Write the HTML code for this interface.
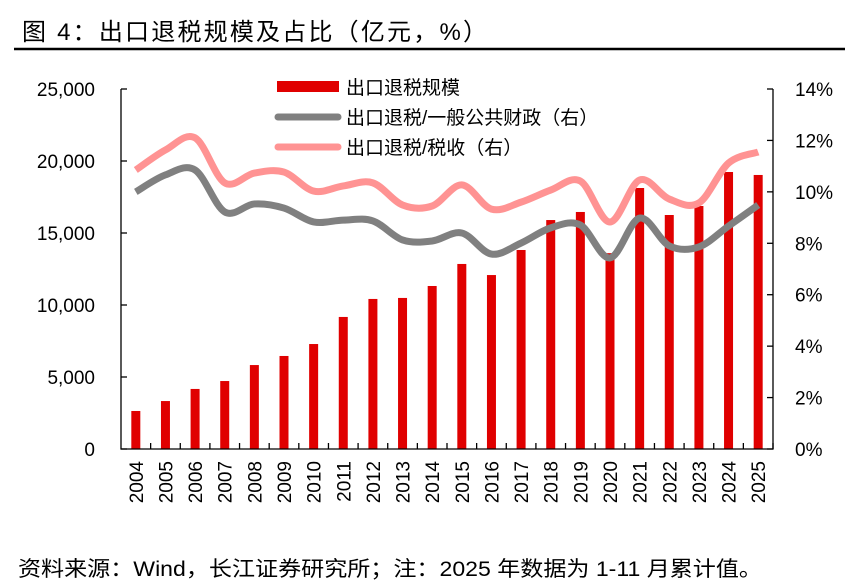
<!DOCTYPE html>
<html><head><meta charset="utf-8">
<style>
body{margin:0;background:#fff;}
svg{display:block;font-family:"Liberation Sans","Noto Sans CJK SC",sans-serif;}
</style></head>
<body>
<svg id="chart" width="856" height="584" viewBox="0 0 856 584">
<text x="22" y="40" font-size="24" fill="#000" textLength="465" lengthAdjust="spacing">图 4：出口退税规模及占比（亿元，%）</text>
<line x1="14" y1="49" x2="845" y2="49" stroke="#000" stroke-width="2.5"/>
<g id="plot"></g>
<text x="18" y="576" font-size="21" fill="#000" textLength="744" lengthAdjust="spacingAndGlyphs">资料来源：Wind，长江证券研究所；注：2025 年数据为 1-11 月累计值。</text>
</svg>
<script>
const years=["2004","2005","2006","2007","2008","2009","2010","2011","2012","2013","2014","2015","2016","2017","2018","2019","2020","2021","2022","2023","2024","2025"];
const rebate=[2640,3330,4170,4720,5830,6460,7290,9170,10420,10490,11320,12850,12080,13820,15900,16460,13600,18125,16250,16875,19236,19030];
const shareFiscal=[10.0,10.66,10.85,9.22,9.53,9.37,8.83,8.9,8.87,8.13,8.09,8.4,7.58,8.01,8.6,8.71,7.43,8.98,7.9,7.86,8.67,9.49];
const shareTax=[10.85,11.63,12.1,10.35,10.73,10.77,10.03,10.23,10.35,9.49,9.45,10.27,9.33,9.6,10.07,10.42,8.83,10.46,9.72,9.57,11.12,11.55];
const leftTicks=[0,5000,10000,15000,20000,25000];
const rightTicks=[0,2,4,6,8,10,12,14];

const NS="http://www.w3.org/2000/svg";
const g=document.getElementById('plot');
const X0=121,X1=773,Y0=449,Y1=89;
const step=(X1-X0)/years.length;
const xc=i=>X0+step*(i+0.5);
const yl=v=>Y0-(v/25000)*(Y0-Y1);
const yr=v=>Y0-(v/14)*(Y0-Y1);
function mk(tag,attrs){const e=document.createElementNS(NS,tag);for(const k in attrs)e.setAttribute(k,attrs[k]);g.appendChild(e);return e;}
function fmt(v){return v.toLocaleString('en-US');}

rebate.forEach((v,i)=>{
 const r=mk('rect',{x:xc(i)-4.5,y:yl(v),width:9,height:Y0-yl(v),fill:'#e00000'});
 
 
});
function smooth(vals){
 const p=vals.map((v,i)=>[xc(i),yr(v)]);
 let d='M'+p[0][0]+','+p[0][1];
 for(let i=0;i<p.length-1;i++){
  const p0=p[i-1]||p[i],p1=p[i],p2=p[i+1],p3=p[i+2]||p2;
  const t=1/6;
  d+=' C'+(p1[0]+(p2[0]-p0[0])*t)+','+(p1[1]+(p2[1]-p0[1])*t)+' '+(p2[0]-(p3[0]-p1[0])*t)+','+(p2[1]-(p3[1]-p1[1])*t)+' '+p2[0]+','+p2[1];
 }
 return d;
}
const l1=mk('path',{d:smooth(shareFiscal),fill:'none',stroke:'#808080','stroke-width':7});


const l2=mk('path',{d:smooth(shareTax),fill:'none',stroke:'#ff9393','stroke-width':7});



const ax=mk('path',{d:`M${X0},${Y1}V${Y0}H${X1}V${Y1}`,fill:'none',stroke:'#000','stroke-width':1.3});


leftTicks.forEach(v=>{
 mk('line',{x1:X0,x2:X0+6,y1:yl(v),y2:yl(v),stroke:'#000','stroke-width':1.3});
 const t=mk('text',{x:X0-26,y:yl(v)+7,'font-size':19,'text-anchor':'end',fill:'#000'});
 t.textContent=fmt(v);
 
 
});
rightTicks.forEach(v=>{
 mk('line',{x1:X1-6,x2:X1,y1:yr(v),y2:yr(v),stroke:'#000','stroke-width':1.3});
 const t=mk('text',{x:X1+22,y:yr(v)+7,'font-size':19,fill:'#000'});
 t.textContent=v+'%';
 
 
});
years.forEach((y,i)=>{
 const tx=X0+step*(i+1);
 mk('line',{x1:tx,x2:tx,y1:Y0,y2:Y0-6,stroke:'#000','stroke-width':1.3});
 const t=mk('text',{transform:`translate(${xc(i)+7},${Y0+12}) rotate(-90)`,'font-size':19,'text-anchor':'end',fill:'#000'});
 t.textContent=y;
 
 
});
const leg=[["出口退税规模","bar"],["出口退税/一般公共财政（右）","#808080"],["出口退税/税收（右）","#ff9393"]];
leg.forEach((L,i)=>{
 const y=87+i*30;
 if(L[1]==='bar') mk('rect',{x:277,y:y-6,width:62,height:11,fill:'#e00000'});
 else mk('line',{x1:278,x2:338,y1:y,y2:y,stroke:L[1],'stroke-width':7,'stroke-linecap':'round'});
 const t=mk('text',{x:346,y:y+7,'font-size':19,fill:'#000'});
 t.textContent=L[0];
 
 
});
</script>
</body></html>
